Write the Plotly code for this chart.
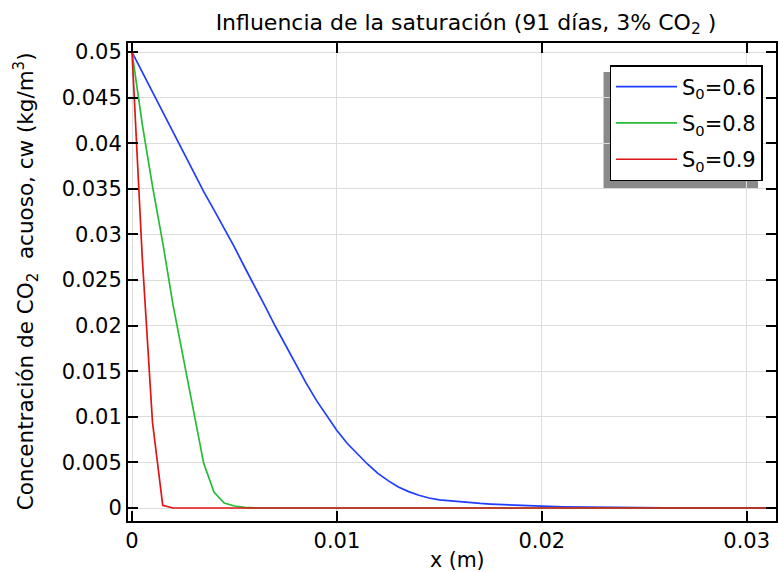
import plotly.graph_objects as go

# Data
x_blue = [0, 0.0005, 0.001, 0.0015, 0.002, 0.0025, 0.003, 0.0035, 0.004, 0.0045,
          0.005, 0.0055, 0.006, 0.0065, 0.007, 0.0075, 0.008, 0.0085, 0.009, 0.0095,
          0.01, 0.0105, 0.011, 0.0115, 0.012, 0.0125, 0.013, 0.0135, 0.014, 0.0145,
          0.015, 0.0155, 0.016, 0.0165, 0.017, 0.0175, 0.018, 0.019, 0.02, 0.021,
          0.022, 0.024, 0.026, 0.028, 0.03, 0.032]
y_blue = [0.05, 0.0478, 0.0457, 0.0435, 0.0413, 0.0391, 0.0369, 0.0347, 0.0327, 0.0307,
          0.0286, 0.0264, 0.0243, 0.0221, 0.0199, 0.0178, 0.0157, 0.0137, 0.0118, 0.0101,
          0.0085, 0.0071, 0.0059, 0.0048, 0.0038, 0.0030, 0.0023, 0.0018, 0.0014, 0.0011,
          0.0009, 0.00078, 0.00068, 0.00058, 0.0005, 0.00043, 0.00037, 0.00028, 0.0002, 0.00014,
          0.0001, 0.00005, 0.00002, 0.00001, 0.0, 0.0]

x_green = [0, 0.0005, 0.001, 0.0015, 0.002, 0.0025, 0.003, 0.0035, 0.004, 0.0045,
           0.005, 0.0055, 0.006, 0.0065, 0.007, 0.01, 0.02, 0.032]
y_green = [0.05, 0.0421, 0.0353, 0.0291, 0.0223, 0.0165, 0.0111, 0.0049, 0.00175, 0.00055,
           0.00022, 0.00007, 0.00002, 0.0, 0.0, 0.0, 0.0, 0.0]

x_red = [0, 0.0005, 0.001, 0.0015, 0.002, 0.0025, 0.005, 0.01, 0.02, 0.032]
y_red = [0.05, 0.0275, 0.0094, 0.0003, 0.0, 0.0, 0.0, 0.0, 0.0, 0.0]

series_names = ["S<sub>0</sub>=0.6", "S<sub>0</sub>=0.8", "S<sub>0</sub>=0.9"]
series_colors = ["#1f3dff", "#26bb38", "#e01414"]

y_tickvals = [0, 0.005, 0.01, 0.015, 0.02, 0.025, 0.03, 0.035, 0.04, 0.045, 0.05]
y_ticktext = ["0", "0.005", "0.01", "0.015", "0.02", "0.025", "0.03", "0.035", "0.04", "0.045", "0.05"]
x_tickvals = [0, 0.01, 0.02, 0.03]
x_ticktext = ["0", "0.01", "0.02", "0.03"]

title_text = "Influencia de la saturación (91 días, 3% CO<sub>2</sub> )"
ytitle_text = "Concentración de CO<sub>2</sub>  acuoso, cw (kg/m<sup>3</sup>)"
xtitle_text = "x (m)"

FONT = "DejaVu Sans"

fig = go.Figure()
for i, (xs, ys, nm, col) in enumerate(zip([x_blue, x_green, x_red], [y_blue, y_green, y_red],
                                           series_names, series_colors)):
    fig.add_trace(go.Scatter(x=xs, y=ys, mode="lines", name=nm, legendgroup=f"g{i}",
                             line=dict(color=col, width=1.7)))

W, H = 778, 572
ml, mr, mt, mb = 128, 0, 43, 51
pw, ph = W - ml - mr, H - mt - mb

lg_left, lg_top, lg_right, lg_bottom = 611, 66, 766, 182
def px2paper_x(px):
    return (px - ml) / pw
def px2paper_y(py):
    return (H - mb - py) / ph

fig.update_layout(
    width=W, height=H,
    margin=dict(l=ml, r=mr, t=mt, b=mb),
    paper_bgcolor="white", plot_bgcolor="white",
    font=dict(family=FONT, size=21, color="black"),
    title=dict(text=title_text,
               x=px2paper_x(467), xref="paper", xanchor="center",
               y=1 - 22 / H, yanchor="middle", font=dict(size=22, family=FONT)),
    showlegend=True,
    legend=dict(x=px2paper_x(lg_left), y=px2paper_y(lg_top - 1), xanchor="left", yanchor="top",
                bgcolor="white", bordercolor="black", borderwidth=1.5,
                font=dict(size=21, family=FONT), tracegroupgap=6, itemwidth=61),
    xaxis=dict(range=[-0.000195, 0.03143], tickvals=x_tickvals, ticktext=x_ticktext,
               showgrid=True, gridcolor="#dcdcdc", gridwidth=1, zeroline=False,
               showline=True, linecolor="black", linewidth=2, mirror="ticks",
               ticks="inside", ticklen=10, tickwidth=2, tickcolor="black",
               tickfont=dict(size=21, family=FONT)),
    yaxis=dict(range=[-0.001425, 0.05099], tickvals=y_tickvals, ticktext=y_ticktext,
               showgrid=True, gridcolor="#dcdcdc", gridwidth=1, zeroline=False,
               showline=True, linecolor="black", linewidth=2, mirror="ticks",
               ticks="inside", ticklen=10, tickwidth=2, tickcolor="black",
               tickfont=dict(size=21, family=FONT)),
)

fig.add_annotation(text=ytitle_text, textangle=-90, xref="paper", yref="paper",
                   x=px2paper_x(26), y=px2paper_y(281), xanchor="center", yanchor="middle",
                   showarrow=False, font=dict(size=21.5, family=FONT))
fig.add_annotation(text=xtitle_text, xref="paper", yref="paper",
                   x=px2paper_x(459), y=px2paper_y(560), xanchor="center", yanchor="middle",
                   showarrow=False, font=dict(size=20.5, family=FONT))

# legend shadow
fig.add_shape(type="rect", xref="paper", yref="paper", layer="below",
              x0=px2paper_x(lg_left - 6), x1=px2paper_x(lg_right - 6),
              y0=px2paper_y(lg_bottom + 6), y1=px2paper_y(lg_top + 6),
              fillcolor="#8a8a8a", line=dict(width=0))

fig.write_html("out.html", config={"displayModeBar": False},
               post_script="document.body.style.margin='0';")
